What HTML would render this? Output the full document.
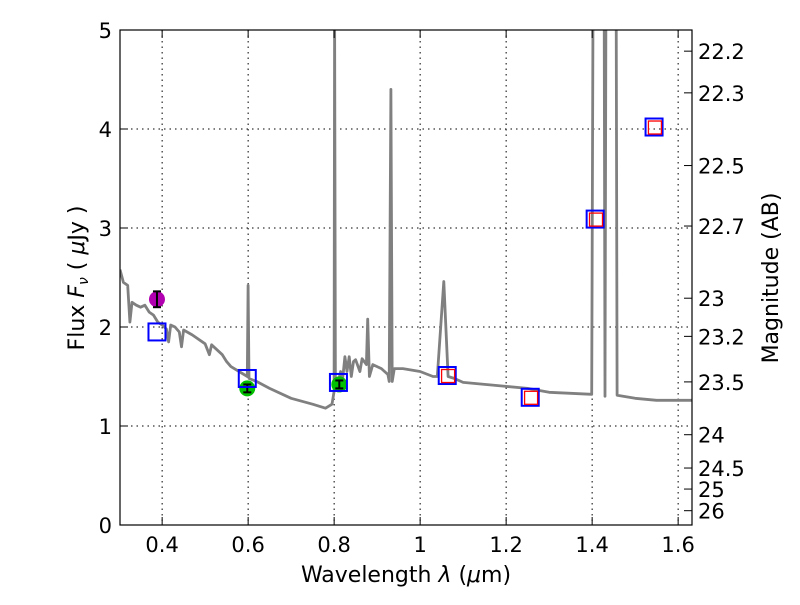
<!DOCTYPE html>
<html><head><meta charset="utf-8"><style>
body{margin:0;background:#fff}
svg text{font-family:"DejaVu Sans","Liberation Sans",sans-serif;fill:#000}
</style></head><body>
<svg id="chart" width="800" height="600" xmlns="http://www.w3.org/2000/svg">
<defs><clipPath id="clip"><rect x="120" y="30" width="572" height="495"/></clipPath></defs>
<g id="grid"></g>
<g id="spec" clip-path="url(#clip)"></g>
<g id="pts"></g>
<rect x="120" y="30" width="572" height="495" fill="none" stroke="#000" stroke-width="1.2"/>
<g id="axes"></g>
<text x="406" y="582" font-size="22" text-anchor="middle">Wavelength  <tspan font-style="italic">λ</tspan> (<tspan font-style="italic">μ</tspan>m)</text>
<text transform="translate(84,278) rotate(-90)" font-size="22" text-anchor="middle">Flux  <tspan font-style="italic">F</tspan><tspan font-style="italic" font-size="14" dy="4">ν</tspan><tspan dy="-4">  ( <tspan font-style="italic">μ</tspan>Jy )</tspan></text>
<text transform="translate(778,278) rotate(-90)" font-size="22" text-anchor="middle">Magnitude (AB)</text>
</svg>
<script>
const xTicks=[0.4,0.6,0.8,1.0,1.2,1.4,1.6];
const xTickLabels=["0.4","0.6","0.8","1","1.2","1.4","1.6"];
const yTicks=[0,1,2,3,4,5];
const magTicks=[22.2,22.3,22.5,22.7,23,23.2,23.5,24,24.5,25,26];
const specWave=[0.302,0.31,0.32,0.325,0.33,0.34,0.35,0.36,0.37,0.38,0.39,0.40,0.41,0.415,0.42,0.43,0.44,0.445,0.45,0.47,0.50,0.51,0.515,0.54,0.55,0.56,0.598,0.600,0.602,0.62,0.65,0.70,0.75,0.78,0.795,0.800,0.801,0.803,0.81,0.815,0.82,0.825,0.83,0.835,0.84,0.845,0.85,0.86,0.865,0.875,0.878,0.882,0.89,0.91,0.925,0.928,0.932,0.935,0.94,0.96,1.0,1.03,1.04,1.055,1.065,1.08,1.10,1.15,1.2,1.25,1.3,1.35,1.399,1.402,1.428,1.430,1.432,1.456,1.458,1.5,1.55,1.6,1.635];
const specFlux=[2.58,2.45,2.42,2.05,2.25,2.22,2.20,2.22,2.15,2.12,2.05,2.02,1.98,1.85,2.02,2.0,1.95,1.80,1.97,1.92,1.83,1.72,1.82,1.72,1.65,1.60,1.50,2.42,1.48,1.45,1.38,1.28,1.22,1.18,1.22,1.35,5.2,1.40,1.45,1.55,1.48,1.70,1.55,1.70,1.50,1.65,1.67,1.55,1.68,1.62,2.08,1.50,1.62,1.58,1.52,1.45,4.4,1.45,1.58,1.58,1.55,1.50,1.50,2.46,1.50,1.48,1.44,1.42,1.40,1.38,1.34,1.33,1.32,5.2,5.2,1.30,5.2,5.2,1.31,1.28,1.26,1.26,1.26];
const dotWave=[0.388,0.598,0.812];
const dotFlux=[2.28,1.38,1.42];
const dotErr=[0.08,0.04,0.04];
const dotColor=["#b000b0","#00c000","#00c000"];
const obsWave=[0.388,0.598,0.810,1.063,1.256,1.407,1.544];
const obsFlux=[1.95,1.48,1.44,1.51,1.29,3.09,4.02];
const modWave=[1.065,1.258,1.409,1.546];
const modFlux=[1.51,1.29,3.09,4.02];
const NS="http://www.w3.org/2000/svg";
const X=v=>120+(v-0.302)*430;
const Y=v=>525-v*99;
const mag2y=m=>Y(Math.pow(10,(23.9-m)/2.5));
function mk(t,a,p){const e=document.createElementNS(NS,t);for(const k in a)e.setAttribute(k,a[k]);p.appendChild(e);return e;}
const grid=document.getElementById('grid'),axes=document.getElementById('axes');
xTicks.forEach((v,i)=>{
 const l=mk('line',{x1:X(v),x2:X(v),y1:30,y2:525,stroke:'#000','stroke-dasharray':'1.5,4','stroke-width':1},grid);
 
 
 mk('line',{x1:X(v),x2:X(v),y1:525,y2:517,stroke:'#000'},axes);
 mk('line',{x1:X(v),x2:X(v),y1:30,y2:38,stroke:'#000'},axes);
 const t=mk('text',{x:X(v),y:552,'font-size':21,'text-anchor':'middle'},axes);t.textContent=xTickLabels[i];
 
 
});
yTicks.forEach(v=>{
 if(v>0&&v<5){const l=mk('line',{x1:120,x2:692,y1:Y(v),y2:Y(v),stroke:'#000','stroke-dasharray':'1.5,4','stroke-width':1},grid);
 
 }
 mk('line',{x1:120,x2:128,y1:Y(v),y2:Y(v),stroke:'#000'},axes);
 const t=mk('text',{x:112,y:Y(v)+8,'font-size':21,'text-anchor':'end'},axes);t.textContent=v;
 
 
});
magTicks.forEach(m=>{
 const y=mag2y(m);
 mk('line',{x1:692,x2:684,y1:y,y2:y,stroke:'#000'},axes);
 const t=mk('text',{x:698,y:y+8,'font-size':21},axes);t.textContent=m;
 
 
});
const sp=document.getElementById('spec');
const d=specWave.map((w,i)=>(i?'L':'M')+X(w).toFixed(1)+','+Y(specFlux[i]).toFixed(1)).join('');
const pl=mk('path',{d:d,fill:'none',stroke:'#808080','stroke-width':2.8,'stroke-linejoin':'round'},sp);


const pts=document.getElementById('pts');
dotWave.forEach((w,i)=>{
 const c=mk('circle',{cx:X(w),cy:Y(dotFlux[i]),r:8,fill:dotColor[i]},pts);
 
 
 const x=X(w),y1=Y(dotFlux[i]+dotErr[i]),y2=Y(dotFlux[i]-dotErr[i]);
 mk('line',{x1:x,x2:x,y1:y1,y2:y2,stroke:'#000','stroke-width':2},pts);
 mk('line',{x1:x-4,x2:x+4,y1:y1,y2:y1,stroke:'#000','stroke-width':2},pts);
 mk('line',{x1:x-4,x2:x+4,y1:y2,y2:y2,stroke:'#000','stroke-width':2},pts);
});
obsWave.forEach((w,i)=>{
 const r=mk('rect',{x:X(w)-8.5,y:Y(obsFlux[i])-8.5,width:17,height:17,fill:'none',stroke:'#0000ff','stroke-width':2},pts);
 
 
});
modWave.forEach((w,i)=>{
 const r=mk('rect',{x:X(w)-6.5,y:Y(modFlux[i])-6,width:13,height:13,fill:'none',stroke:'#ff0000','stroke-width':1.3},pts);
 
 
});
</script>
</body></html>
